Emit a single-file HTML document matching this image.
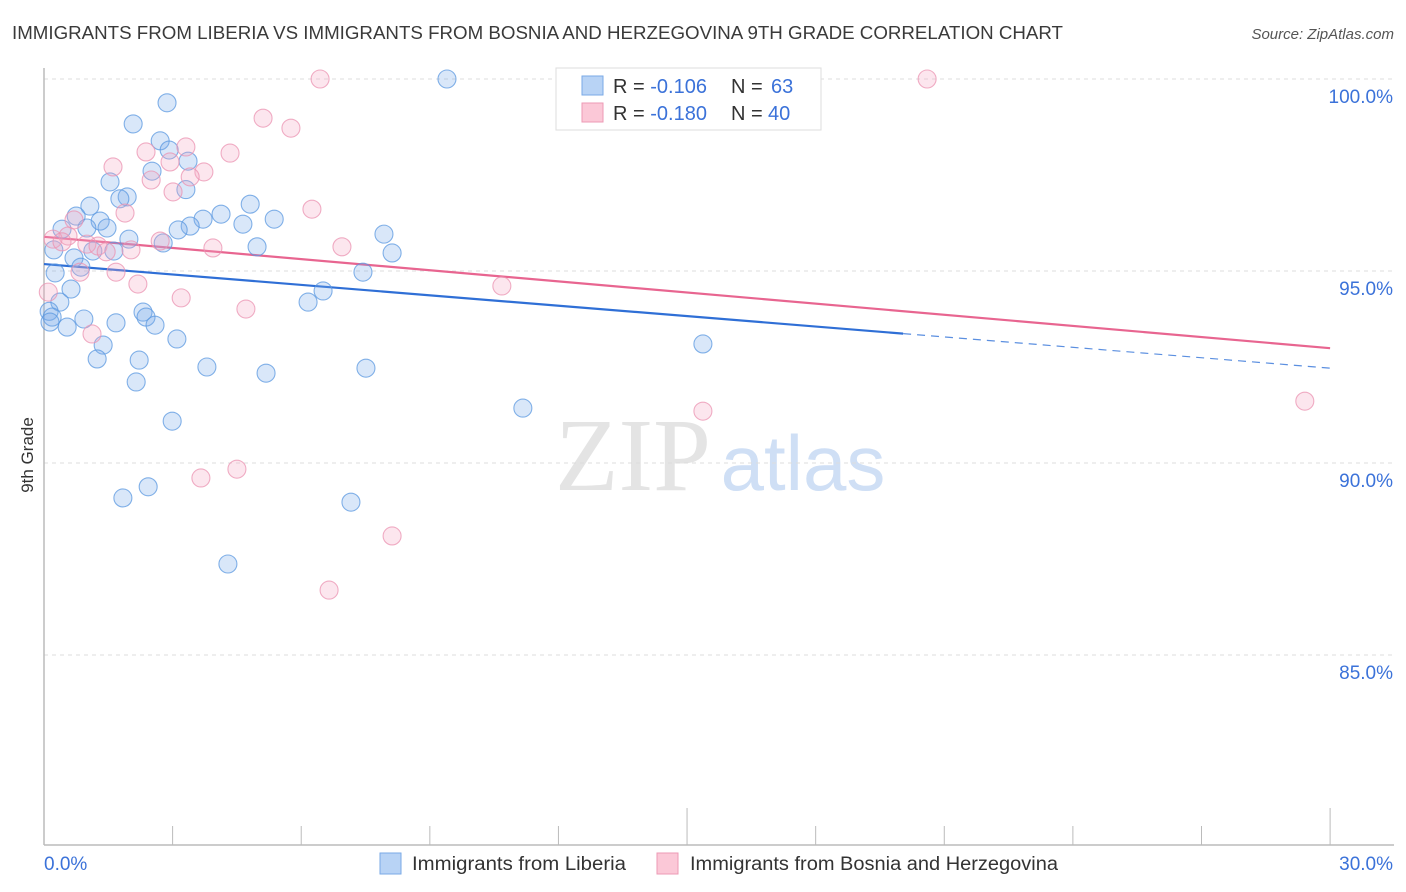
<!DOCTYPE html>
<html><head><meta charset="utf-8">
<style>
body{margin:0;background:#fff;}
svg{display:block;font-family:"Liberation Sans",sans-serif;}
</style></head>
<body>
<svg id="chart" width="1406" height="892" viewBox="0 0 1406 892">
<text x="12" y="39" font-size="18.5" fill="#3a3a3a" textLength="1051" lengthAdjust="spacingAndGlyphs">IMMIGRANTS FROM LIBERIA VS IMMIGRANTS FROM BOSNIA AND HERZEGOVINA 9TH GRADE CORRELATION CHART</text>
<text x="1394" y="39" font-size="15" fill="#555" font-style="italic" text-anchor="end">Source: ZipAtlas.com</text>
<text x="0" y="0" transform="translate(33,455) rotate(-90)" font-size="17" fill="#333" text-anchor="middle">9th Grade</text>
<g>
<text x="633" y="490" font-size="104" fill="#e4e4e4" font-family="Liberation Serif,serif" text-anchor="middle">ZIP</text>
<text x="803" y="490" font-size="78" fill="#cfdff5" text-anchor="middle">atlas</text>
</g>
<g id="grid"></g>
<g id="axes"></g>
<g id="lines"></g>
<g id="pts"></g>
<g>
<rect x="556" y="68" width="265" height="62" fill="#fff" stroke="#ddd"/>
<rect x="582" y="76" width="21" height="19" fill="#b8d3f5" stroke="#7aaae6"/>
<rect x="582" y="103" width="21" height="19" fill="#fbc8d7" stroke="#ec9ab4"/>
<text x="613" y="93" font-size="20" fill="#333">R = <tspan fill="#3b72d9">-0.106</tspan><tspan x="731">N = </tspan><tspan fill="#3b72d9" x="771">63</tspan></text>
<text x="613" y="120" font-size="20" fill="#333">R = <tspan fill="#3b72d9">-0.180</tspan><tspan x="731">N = </tspan><tspan fill="#3b72d9" x="768">40</tspan></text>
</g>
<g>
<rect x="380" y="853" width="21" height="21" fill="#b8d3f5" stroke="#7aaae6"/>
<text x="412" y="870" font-size="19" fill="#333" textLength="214" lengthAdjust="spacingAndGlyphs">Immigrants from Liberia</text>
<rect x="657" y="853" width="21" height="21" fill="#fbc8d7" stroke="#ec9ab4"/>
<text x="690" y="870" font-size="19" fill="#333" textLength="368" lengthAdjust="spacingAndGlyphs">Immigrants from Bosnia and Herzegovina</text>
</g>
</svg>
<script>
const blueX=[9.4,2.87,2.08,2.71,2.92,3.36,2.52,1.54,3.31,1.94,1.77,4.81,1.07,0.75,4.13,3.71,5.37,4.64,1.31,3.41,3.13,1.0,0.42,1.47,7.93,1.98,2.78,4.97,0.23,1.63,1.14,8.12,0.7,0.86,0.26,7.44,0.63,6.51,0.37,6.16,0.12,0.19,0.93,2.31,2.38,1.68,2.59,0.14,0.54,3.1,1.38,15.37,1.24,2.22,3.8,7.51,5.18,2.15,11.17,2.99,2.43,1.84,7.16,4.29];
const blueY=[100,99.38,98.83,98.39,98.15,97.86,97.6,97.32,97.12,96.93,96.88,96.74,96.69,96.43,96.48,96.35,96.35,96.22,96.3,96.17,96.07,96.12,96.09,96.12,95.96,95.83,95.73,95.63,95.55,95.52,95.52,95.47,95.34,95.1,94.95,94.97,94.53,94.48,94.19,94.19,93.95,93.8,93.75,93.93,93.8,93.65,93.59,93.67,93.54,93.23,93.07,93.1,92.71,92.68,92.5,92.47,92.34,92.11,91.43,91.09,89.38,89.09,88.98,87.37];
const pinkX=[6.44,20.6,5.11,5.76,3.31,2.38,4.34,1.61,2.94,3.73,2.5,3.41,3.01,1.89,6.25,0.7,0.56,0.21,0.42,2.71,1.0,1.26,1.45,2.03,3.94,6.95,0.84,1.68,2.19,10.68,3.2,4.71,1.12,15.37,29.41,4.5,3.66,8.12,6.65,0.1];
const pinkY=[100,100,98.98,98.72,98.23,98.1,98.07,97.71,97.84,97.58,97.37,97.45,97.06,96.51,96.61,96.33,95.91,95.83,95.76,95.78,95.7,95.65,95.5,95.55,95.6,95.63,94.97,94.97,94.66,94.61,94.3,94.01,93.36,91.35,91.61,89.84,89.61,88.1,86.69,94.45];
const blueTrend=[95.18,92.47], pinkTrend=[95.89,92.99], blueSolidEnd=20.04;
const xTicks=[0,3,6,9,12,15,18,21,24,27,30];
const yTicks=[100,95,90,85];
const yTickLabels=["100.0%","95.0%","90.0%","85.0%"];
const xEndLabels=["0.0%","30.0%"];

const X=v=>44+v*42.87, Y=v=>79+(100-v)*38.4;
const NS="http://www.w3.org/2000/svg";
function mk(parent,tag,attrs){const e=document.createElementNS(NS,tag);for(const k in attrs)e.setAttribute(k,attrs[k]);document.getElementById(parent).appendChild(e);return e;}
yTicks.forEach((t,i)=>{
  const g=mk('grid','line',{x1:44,x2:1394,y1:Y(t),y2:Y(t),stroke:'#ddd','stroke-dasharray':'4,4'});
  
  
  const l=mk('grid','text',{x:1393,y:Y(t)+24,'font-size':19,fill:'#3b72d9','text-anchor':'end'});
  l.textContent=yTickLabels[i];
  
  
});
const ax=mk('axes','line',{x1:44,x2:1394,y1:845,y2:845,stroke:'#bbb','stroke-width':1.5});


const ay=mk('axes','line',{x1:44,x2:44,y1:68,y2:845,stroke:'#bbb','stroke-width':1.5});


xTicks.forEach(t=>{
  const big=(t===15||t===30);
  const tk=mk('axes','line',{x1:X(t),x2:X(t),y1:big?808:826,y2:845,stroke:'#bbb'});
  
  
});
const l0=mk('axes','text',{x:44,y:870,'font-size':19,fill:'#3b72d9'});l0.textContent=xEndLabels[0];


const l1=mk('axes','text',{x:1393,y:870,'font-size':19,fill:'#3b72d9','text-anchor':'end'});l1.textContent=xEndLabels[1];



function dot(x,y,fill,stroke,name){
  const c=mk('pts','circle',{cx:X(x),cy:Y(y),r:9,fill:fill,stroke:stroke,'stroke-width':1.1,'stroke-opacity':0.75});
  
  
}
blueX.forEach((x,i)=>dot(x,blueY[i],'rgba(120,170,235,0.28)','#5b98e0','point-liberia'));
pinkX.forEach((x,i)=>dot(x,pinkY[i],'rgba(245,165,195,0.28)','#eb93b1','point-bosnia'));

const by=x=>blueTrend[0]+(blueTrend[1]-blueTrend[0])*x/30;
const py=x=>pinkTrend[0]+(pinkTrend[1]-pinkTrend[0])*x/30;
const bl=mk('lines','line',{x1:X(0),y1:Y(by(0)),x2:X(blueSolidEnd),y2:Y(by(blueSolidEnd)),stroke:'#2f6fd6','stroke-width':2.2});


const bd=mk('lines','line',{x1:X(blueSolidEnd),y1:Y(by(blueSolidEnd)),x2:X(30),y2:Y(by(30)),stroke:'#5b8fe0','stroke-width':1.2,'stroke-dasharray':'8,6'});


const pl=mk('lines','line',{x1:X(0),y1:Y(py(0)),x2:X(30),y2:Y(py(30)),stroke:'#e86590','stroke-width':2.2});


</script>
</body></html>
